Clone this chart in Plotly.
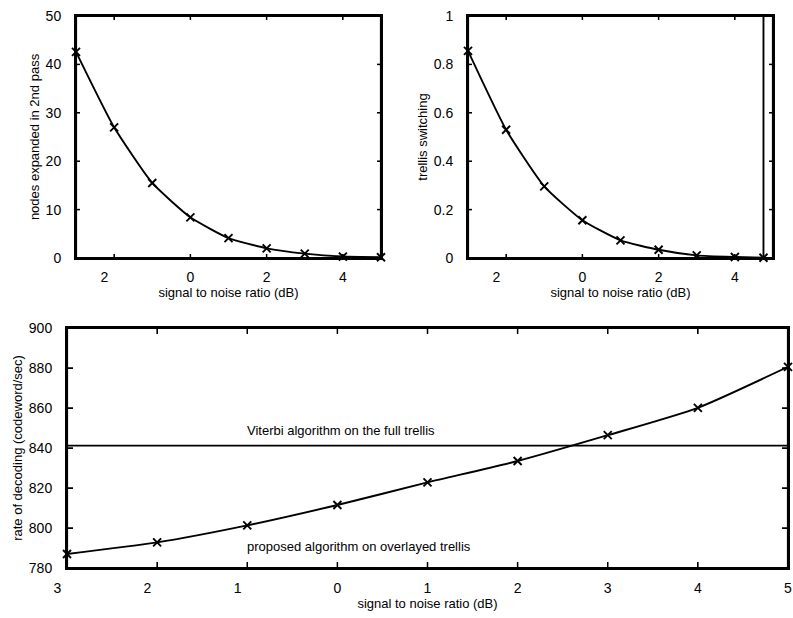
import plotly.graph_objects as go

# ---------------- data ----------------
snr = [-3, -2, -1, 0, 1, 2, 3, 4, 5]
nodes_expanded = [42.6, 27.0, 15.5, 8.4, 4.1, 2.0, 0.9, 0.3, 0.15]

snr_switch = [-3, -2, -1, 0, 1, 2, 3, 4, 4.75]
trellis_switching = [0.856, 0.53, 0.296, 0.156, 0.073, 0.034, 0.011, 0.004, 0.001]
switch_marker_x = [4.75, 4.75]
switch_marker_y = [0, 1]

rate_proposed = [787.0, 792.8, 801.3, 811.5, 822.8, 833.5, 846.4, 860.1, 880.6]
rate_viterbi = 841.2
viterbi_x = [-3, 5]

top_tickvals = [-2, 0, 2, 4]
top_ticktext = ["2\u00a0\u00a0\u00a0\u00a0\u00a0", "0", "2", "4"]
bottom_tickvals = [-3, -2, -1, 0, 1, 2, 3, 4, 5]
bottom_ticktext = ["3\u00a0\u00a0\u00a0\u00a0\u00a0", "2\u00a0\u00a0\u00a0\u00a0\u00a0",
                   "1\u00a0\u00a0\u00a0\u00a0\u00a0", "0", "1", "2", "3", "4", "5"]
nodes_ticks = [0, 10, 20, 30, 40, 50]
switch_ticks = [0, 0.2, 0.4, 0.6, 0.8, 1]
switch_ticktext = ["0", "0.2", "0.4", "0.6", "0.8", "1"]
rate_ticks = [780, 800, 820, 840, 860, 880, 900]

x_title = "signal to noise ratio (dB)"
label_viterbi = "Viterbi algorithm on the full trellis"
label_proposed = "proposed algorithm on overlayed trellis"

# ---------------- figure ----------------
W, H = 793, 618
FONT = "Liberation Sans, Arial, Helvetica, sans-serif"


def dx(a, b):
    return [a / W, b / W]


def dy(top, bottom):
    return [1 - bottom / H, 1 - top / H]


fig = go.Figure()

line_style = dict(color="black", width=1.9)
marker_style = dict(symbol="x-thin", size=8, color="black",
                    line=dict(color="black", width=1.9))

fig.add_trace(go.Scatter(x=snr, y=nodes_expanded, mode="lines+markers",
                         line=dict(**line_style, shape="spline", smoothing=0.5),
                         marker=marker_style, xaxis="x", yaxis="y",
                         cliponaxis=False, showlegend=False))

fig.add_trace(go.Scatter(x=snr_switch, y=trellis_switching, mode="lines+markers",
                         line=dict(**line_style, shape="spline", smoothing=0.5),
                         marker=marker_style, xaxis="x2", yaxis="y2",
                         cliponaxis=False, showlegend=False))
fig.add_trace(go.Scatter(x=switch_marker_x, y=switch_marker_y, mode="lines",
                         line=dict(color="black", width=1.9), xaxis="x2", yaxis="y2",
                         showlegend=False))

fig.add_trace(go.Scatter(x=viterbi_x, y=[rate_viterbi, rate_viterbi], mode="lines",
                         line=dict(color="black", width=1.9), xaxis="x3", yaxis="y3",
                         showlegend=False))
fig.add_trace(go.Scatter(x=snr, y=rate_proposed, mode="lines+markers",
                         line=dict(**line_style, shape="spline", smoothing=0.6),
                         marker=marker_style, xaxis="x3", yaxis="y3",
                         cliponaxis=False, showlegend=False))

tick_font = dict(family=FONT, size=14, color="black")
title_font = dict(family=FONT, size=13, color="black")

common_axis = dict(showline=True, linecolor="#000000", linewidth=2, mirror="allticks",
                   ticks="inside", tickcolor="#000000", tickwidth=1,
                   showgrid=False, zeroline=False, tickfont=tick_font,
                   automargin=False, ticklabeloverflow="allow",
                   layer="above traces")

# frame + inside ticks drawn as shapes (axis lines are not rendered by the viewer)
panels = [
    ("x", "y", dx(76, 381), dy(16, 258), top_tickvals, nodes_ticks, 4),
    ("x2", "y2", dx(468, 773), dy(16, 258), top_tickvals, switch_ticks, 4),
    ("x3", "y3", dx(67, 788), dy(328, 568), bottom_tickvals, rate_ticks, 6),
]
shapes = []
for xa, ya, xd, yd, xt, yt, tl in panels:
    wpx = (xd[1] - xd[0]) * W
    hpx = (yd[1] - yd[0]) * H
    shapes.append(dict(type="rect", xref=f"{xa} domain", yref=f"{ya} domain",
                       x0=0, x1=1, y0=0, y1=1, layer="above",
                       line=dict(color="black", width=2.2)))
    for v in xt:
        for y0, y1 in ((0, tl / hpx), (1, 1 - tl / hpx)):
            shapes.append(dict(type="line", xref=xa, yref=f"{ya} domain",
                               x0=v, x1=v, y0=y0, y1=y1, layer="above",
                               line=dict(color="black", width=1.5)))
    for v in yt:
        for x0, x1 in ((0, tl / wpx), (1, 1 - tl / wpx)):
            shapes.append(dict(type="line", xref=f"{xa} domain", yref=ya,
                               x0=x0, x1=x1, y0=v, y1=v, layer="above",
                               line=dict(color="black", width=1.5)))

fig.update_layout(
    template="none",
    width=W, height=H,
    margin=dict(l=0, r=0, t=0, b=0, autoexpand=False),
    paper_bgcolor="white", plot_bgcolor="white",
    font=dict(family=FONT, color="black"),
    xaxis=dict(**common_axis, domain=dx(76, 381), anchor="y", range=[-3, 5],
               tickvals=top_tickvals, ticktext=top_ticktext, ticklen=4,
               ticklabelstandoff=5,
               title=dict(text=x_title, font=title_font, standoff=2)),
    yaxis=dict(**common_axis, domain=dy(16, 258), anchor="x", range=[0, 50],
               tickvals=nodes_ticks, ticklen=4, ticklabelstandoff=10,
               title=dict(text="nodes expanded in 2nd pass", font=title_font, standoff=3)),
    xaxis2=dict(**common_axis, domain=dx(468, 773), anchor="y2", range=[-3, 5],
                tickvals=top_tickvals, ticktext=top_ticktext, ticklen=4,
                ticklabelstandoff=5,
                title=dict(text=x_title, font=title_font, standoff=2)),
    yaxis2=dict(**common_axis, domain=dy(16, 258), anchor="x2", range=[0, 1],
                tickvals=switch_ticks, ticktext=switch_ticktext, ticklen=4,
                ticklabelstandoff=10,
                title=dict(text="trellis switching", font=title_font, standoff=3)),
    xaxis3=dict(**common_axis, domain=dx(67, 788), anchor="y3", range=[-3, 5],
                tickvals=bottom_tickvals, ticktext=bottom_ticktext, ticklen=6,
                ticklabelstandoff=6,
                title=dict(text=x_title, font=title_font, standoff=3)),
    yaxis3=dict(**common_axis, domain=dy(328, 568), anchor="x3", range=[780, 900],
                tickvals=rate_ticks, ticklen=6, ticklabelstandoff=10,
                title=dict(text="rate of decoding (codeword/sec)", font=title_font, standoff=3)),
    annotations=[
        dict(x=-1.03, y=849, xref="x3", yref="y3", text=label_viterbi, showarrow=False,
             xanchor="left", yanchor="middle", font=dict(family=FONT, size=13, color="black")),
        dict(x=-1.03, y=791, xref="x3", yref="y3", text=label_proposed, showarrow=False,
             xanchor="left", yanchor="middle", font=dict(family=FONT, size=13, color="black")),
    ],
    shapes=shapes,
)

fig.write_html(
    "out.html",
    config={"displayModeBar": False},
    post_script="document.body.style.margin='0';"
                "document.documentElement.style.overflow='hidden';"
                "document.body.style.overflow='hidden';",
)
